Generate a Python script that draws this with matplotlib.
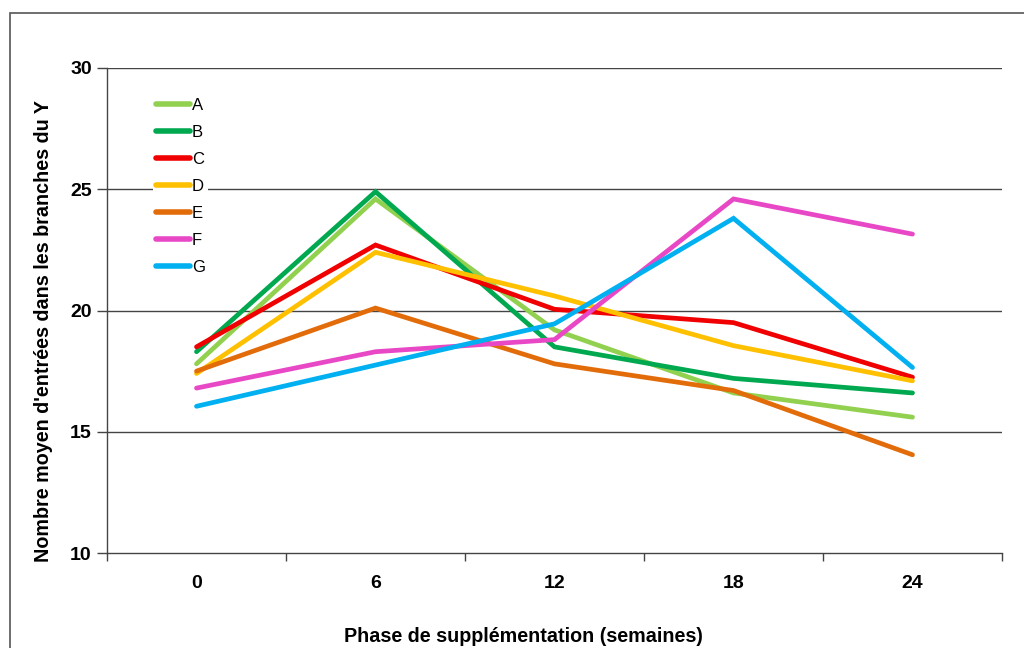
import matplotlib.pyplot as plt
from matplotlib.patches import Rectangle

plt.rcParams['font.family'] = ['Liberation Sans', 'DejaVu Sans']

weeks = ['0', '6', '12', '18', '24']
series = {
    'A': [17.8, 24.6, 19.2, 16.6, 15.6],
    'B': [18.3, 24.9, 18.5, 17.2, 16.6],
    'C': [18.5, 22.7, 20.05, 19.5, 17.25],
    'D': [17.4, 22.4, 20.6, 18.55, 17.1],
    'E': [17.5, 20.1, 17.8, 16.7, 14.05],
    'F': [16.8, 18.3, 18.8, 24.6, 23.15],
    'G': [16.05, 17.75, 19.45, 23.8, 17.65],
}
colors = {
    'A': '#92D050', 'B': '#00A84F', 'C': '#F00000', 'D': '#FFC000',
    'E': '#E36C0A', 'F': '#E848C6', 'G': '#00B0F0',
}

fig = plt.figure(figsize=(10.24, 6.48), dpi=100)
ax = fig.add_axes([107/1024, 1 - 553/648, (1002-107)/1024, (553-68)/648])

# outer frame of the original picture
fig.patches.append(Rectangle((10/1024, -0.1), 1.1, 1 - 13/648 + 0.1,
                             transform=fig.transFigure, fill=False,
                             edgecolor='#555555', linewidth=1.2))

x = list(range(len(weeks)))
for name, vals in series.items():
    ax.plot(x, vals, color=colors[name], linewidth=3.4, label=name,
            solid_capstyle='round', solid_joinstyle='miter')

ax.set_xlim(-0.5, len(weeks) - 0.5)
ax.set_ylim(10, 30)
ax.set_yticks([10, 15, 20, 25, 30])
for yv in [15, 20, 25, 30]:
    ax.axhline(yv, color='#444444', linewidth=1, zorder=0)

ax.set_xticks([i - 0.5 for i in range(len(weeks) + 1)])
ax.set_xticklabels([])
ax.set_xticks(x, minor=True)
ax.set_xticklabels(weeks, minor=True)
ax.tick_params(axis='x', which='major', length=6, color='#444444', width=1)
ax.tick_params(axis='x', which='minor', length=0, pad=16)
ax.tick_params(axis='y', length=7, color='#444444', width=1, pad=4)
for lab in ax.get_xticklabels(minor=True) + ax.get_yticklabels():
    lab.set_fontsize(14)
    lab.set_fontweight('bold')

ax.spines['top'].set_visible(False)
ax.spines['right'].set_visible(False)
for s in ['left', 'bottom']:
    ax.spines[s].set_color('#444444')
    ax.spines[s].set_linewidth(1)

ax.set_xlabel('Phase de supplémentation (semaines)', fontsize=14.2,
              fontweight='bold', labelpad=25, x=0.465)
ax.set_ylabel("Nombre moyen d'entrées dans les branches du Y", fontsize=14.2,
              fontweight='bold', labelpad=12, y=0.458)

leg = ax.legend(loc='upper left', bbox_to_anchor=(0.042, 0.962), frameon=True,
                fontsize=12, handlelength=2.0, handletextpad=0.15,
                labelspacing=0.72, borderpad=0.2)
leg.get_frame().set_edgecolor('none')
leg.get_frame().set_facecolor('white')
leg.get_frame().set_alpha(1)
for line in leg.get_lines():
    line.set_linewidth(4)

fig.savefig('out.png', dpi=100)
